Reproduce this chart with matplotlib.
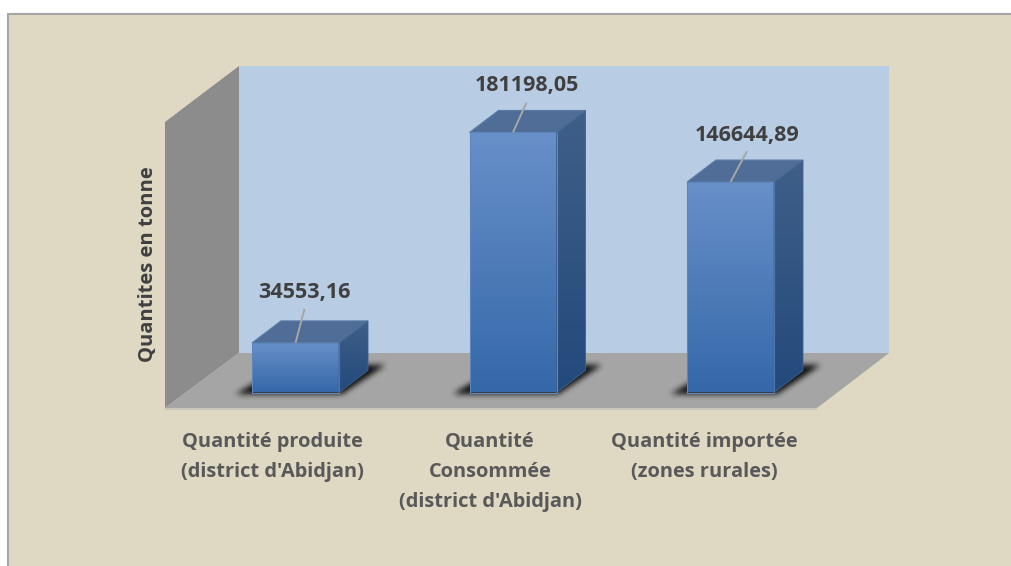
import numpy as np
import matplotlib
matplotlib.use('Agg')
import matplotlib.pyplot as plt
from matplotlib.patches import Polygon
from matplotlib.path import Path
from matplotlib.colors import LinearSegmentedColormap

categories = ["Quantité produite\n(district d'Abidjan)",
              "Quantité\nConsommée\n(district d'Abidjan)",
              "Quantité importée\n(zones rurales)"]
values = [34553.16, 181198.05, 146644.89]
value_labels = ['34553,16', '181198,05', '146644,89']
y_title = 'Quantites en tonne'

W, H = 1011, 566
# echelle du graphique en pixels
x_step = 217.5
x_zero = 295.5
y_zero = 392.5
y_scale = 0.001435
half_w = 43.5 / x_step
depth_x = 29 / x_step
depth_y = 22 / y_scale

plt.rcParams['font.family'] = ['Open Sans', 'DejaVu Sans']
fig = plt.figure(figsize=(W / 100, H / 100), dpi=100, facecolor='white')

# decor (murs, sol) en pixels
bg = fig.add_axes([0, 0, 1, 1])
bg.set_xlim(0, W)
bg.set_ylim(H, 0)
bg.axis('off')
bg.add_patch(Polygon([(8, 14), (W + 5, 14), (W + 5, H + 5), (8, H + 5)], fc='#dfd9c3', ec='#a6a6a6', lw=1.5))
bg.add_patch(Polygon([(239, 66), (889, 66), (889, 353), (239, 353)], fc='#b8cce4', ec='none'))
bg.add_patch(Polygon([(165, 122), (239, 66), (239, 353), (165, 408)], fc='#8c8c8c', ec='none'))
bg.add_patch(Polygon([(165, 408), (239, 353), (889, 353), (817, 408)], fc='#a5a5a5', ec='none'))
bg.plot([165, 817], [408.5, 408.5], color='#c9c7bb', lw=1.5, solid_capstyle='butt')

# barres
ax = fig.add_axes([0, 0, 1, 1])
ax.patch.set_alpha(0)
ax.axis('off')
xlim = ((0 - x_zero) / x_step, (W - x_zero) / x_step)
ylim = ((y_zero - H) / y_scale, y_zero / y_scale)


def gradient(poly, top, bottom, z):
    cmap = LinearSegmentedColormap.from_list('g', [top, bottom])
    xy = np.array(poly)
    im = ax.imshow(np.linspace(0, 1, 256).reshape(-1, 1), cmap=cmap, aspect='auto', origin='upper',
                   extent=[xy[:, 0].min(), xy[:, 0].max(), xy[:, 1].min(), xy[:, 1].max()], zorder=z)
    patch = Polygon(poly, fc='none', ec='none', transform=ax.transData)
    ax.add_patch(patch)
    im.set_clip_path(patch)


def shadow(xc):
    # ombre floue au pied de la barre
    sx = np.arange(xc - 85 / x_step, xc + 125 / x_step, 1 / x_step)
    sy = np.arange(-20 / y_scale, 50 / y_scale, 1 / y_scale)
    gx, gy = np.meshgrid(sx, sy)
    shape = Path([(xc - 60 / x_step, -2 / y_scale), (xc + half_w + 3 / x_step, -2 / y_scale),
                  (xc + half_w + 46 / x_step, 27 / y_scale), (xc - 10 / x_step, 27 / y_scale)])
    mask = shape.contains_points(np.c_[gx.ravel(), gy.ravel()]).reshape(gx.shape).astype(float)
    kernel = np.ones(7) / 7
    for i in range(2):
        mask = np.apply_along_axis(lambda r: np.convolve(r, kernel, mode='same'), 0, mask)
        mask = np.apply_along_axis(lambda r: np.convolve(r, kernel, mode='same'), 1, mask)
    rgba = np.zeros(mask.shape + (4,))
    rgba[..., 3] = np.clip(mask * 1.1, 0, 1) * 0.85
    ax.imshow(rgba, origin='lower', aspect='auto', zorder=1,
              extent=[sx[0], sx[-1], sy[0], sy[-1]])


label_dx = [9, 13.5, 16.5]
leader_dy = [34, 30, 31]
label_dy = [50, 47, 47]

for i, v in enumerate(values):
    x0, x1 = i - half_w, i + half_w
    shadow(i)
    front = [(x0, 0), (x1, 0), (x1, v), (x0, v)]
    side = [(x1, 0), (x1 + depth_x, depth_y), (x1 + depth_x, v + depth_y), (x1, v)]
    top = [(x0, v), (x1, v), (x1 + depth_x, v + depth_y), (x0 + depth_x, v + depth_y)]
    gradient(side, '#3f5f88', '#234a7c', 2)
    ax.add_patch(Polygon(top, fc='#4f6d96', ec='#5a7aa6', lw=0.8, zorder=3))
    gradient(front, '#6890c9', '#3568a9', 4)
    ax.add_patch(Polygon(front, fc='none', ec='#5d86bc', lw=0.8, zorder=5))
    ax.add_patch(Polygon(side, fc='none', ec='#3f6290', lw=0.6, zorder=5))
    # trait de rappel et etiquette de valeur
    ax.plot([i, i + label_dx[i] / x_step], [v, v + leader_dy[i] / y_scale], color='#a6a6a6', lw=1.4, zorder=6,
            solid_capstyle='butt')
    ax.text(i + label_dx[i] / x_step, v + label_dy[i] / y_scale, value_labels[i], ha='center', va='center',
            fontsize=15.5, fontweight='bold', color='#404040', zorder=7)

ax.set_xlim(xlim)
ax.set_ylim(ylim)

# libelles des categories
cat_x = [272, 490, 704]
for i, c in enumerate(categories):
    bg.text(cat_x[i], 432, c, ha='center', va='top', fontsize=14.4, fontweight='bold', color='#595959',
            linespacing=1.68)
bg.text(148, 264, y_title, rotation=90, ha='center', va='center', fontsize=14.5, fontweight='bold',
        color='#404040')

plt.savefig('out.png', dpi=100)
